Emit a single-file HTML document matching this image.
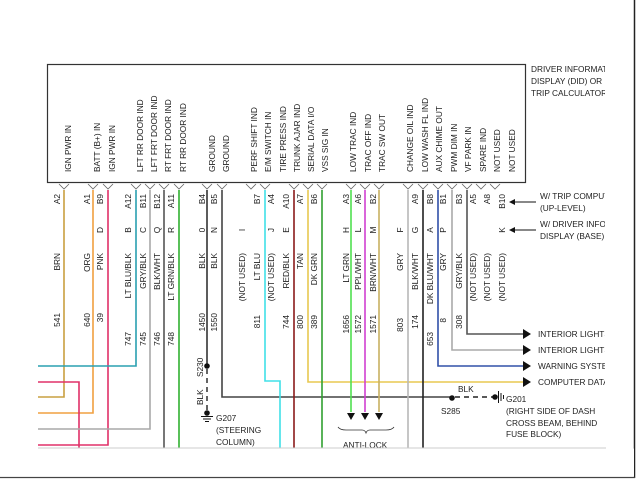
<!DOCTYPE html>
<html><head><meta charset="utf-8"><style>
html,body{margin:0;padding:0;background:#fff;}
svg{display:block;}
text{font-family:"Liberation Sans",Arial,sans-serif;font-size:8.3px;fill:#222;}
</style></head><body>
<svg width="640" height="480" viewBox="0 0 640 480" xmlns="http://www.w3.org/2000/svg">
<defs><clipPath id="c"><rect x="0" y="0" width="605" height="480"/></clipPath></defs>
<rect width="640" height="480" fill="#fff"/>
<line x1="634.5" y1="0" x2="634.5" y2="478" stroke="#222" stroke-width="1.5"/>
<line x1="0" y1="477.5" x2="635" y2="477.5" stroke="#444" stroke-width="1.2"/>
<rect x="47.5" y="64.5" width="478" height="118" fill="none" stroke="#333" stroke-width="1.2"/>
<line x1="38" y1="448" x2="606" y2="448" stroke="#ccc" stroke-width="1"/>

<g fill="none" stroke-width="1.6">
<path d="M64 190V397H38" stroke="#c9a040"/>
<path d="M93 190V413H38" stroke="#f0a040"/>
<path d="M108 190V445H38" stroke="#e03068"/>
<path d="M38 382H79V448" stroke="#e03068"/>
<path d="M136 190V366H38" stroke="#2aa0b0"/>
<path d="M150 190V429H38" stroke="#a8a8a8"/>
<path d="M164 190V448" stroke="#555"/>
<path d="M179 190V448" stroke="#30b030"/>
<path d="M207 190V366" stroke="#333"/>
<path d="M222 190V397H452" stroke="#444"/>
<path d="M265 190V381H280V448" stroke="#40e0e8"/>
<path d="M294 190V448" stroke="#8a1a1a"/>
<path d="M308 190V382H524" stroke="#e8c850"/>
<path d="M322 190V448" stroke="#30a030"/>
<path d="M351 190V412" stroke="#50e050"/>
<path d="M365 190V412" stroke="#d040d0"/>
<path d="M379 190V412" stroke="#c8b060"/>
<path d="M408 190V448" stroke="#b8b8b8"/>
<path d="M423 190V448" stroke="#222"/>
<path d="M438 190V366H524" stroke="#3050a8"/>
<path d="M452 190V350H524" stroke="#aaa"/>
<path d="M467 190V334H524" stroke="#555"/>
</g>
<!-- connector Vs -->
<g fill="none" stroke="#666" stroke-width="0.8">
<path d="M59 184l5 5 5-5M88 184l5 5 5-5M103 184l5 5 5-5M131 184l5 5 5-5M145 184l5 5 5-5M159 184l5 5 5-5M174 184l5 5 5-5M202 184l5 5 5-5M217 184l5 5 5-5M246 184l5 5 5-5M260 184l5 5 5-5M289 184l5 5 5-5M303 184l5 5 5-5M317 184l5 5 5-5M346 184l5 5 5-5M360 184l5 5 5-5M374 184l5 5 5-5M403 184l5 5 5-5M418 184l5 5 5-5M433 184l5 5 5-5M447 184l5 5 5-5M462 184l5 5 5-5M476 184l5 5 5-5M490 184l5 5 5-5"/>
</g>

<!-- header labels -->
<g>
<text transform="translate(71,172) rotate(-90)">IGN PWR IN</text>
<text transform="translate(100,172) rotate(-90)">BATT (B+) IN</text>
<text transform="translate(115,172) rotate(-90)">IGN PWR IN</text>
<text transform="translate(143,172) rotate(-90)">LFT RR DOOR IND</text>
<text transform="translate(157,172) rotate(-90)">LFT FRT DOOR IND</text>
<text transform="translate(171,172) rotate(-90)">RT FRT DOOR IND</text>
<text transform="translate(186,172) rotate(-90)">RT RR DOOR IND</text>
<text transform="translate(215,172) rotate(-90)">GROUND</text>
<text transform="translate(229,172) rotate(-90)">GROUND</text>
<text transform="translate(257,172) rotate(-90)">PERF SHIFT IND</text>
<text transform="translate(271,172) rotate(-90)">E/M SWITCH IN</text>
<text transform="translate(286,172) rotate(-90)">TIRE PRESS IND</text>
<text transform="translate(300,172) rotate(-90)">TRUNK AJAR IND</text>
<text transform="translate(314,172) rotate(-90)">SERIAL DATA I/O</text>
<text transform="translate(328,172) rotate(-90)">VSS SIG IN</text>
<text transform="translate(356,172) rotate(-90)">LOW TRAC IND</text>
<text transform="translate(371,172) rotate(-90)">TRAC OFF IND</text>
<text transform="translate(385,172) rotate(-90)">TRAC SW OUT</text>
<text transform="translate(413,172) rotate(-90)">CHANGE OIL IND</text>
<text transform="translate(428,172) rotate(-90)">LOW WASH FL IND</text>
<text transform="translate(442,172) rotate(-90)">AUX CHIME OUT</text>
<text transform="translate(457,172) rotate(-90)">PWM DIM IN</text>
<text transform="translate(471,172) rotate(-90)">VF PARK IN</text>
<text transform="translate(486,172) rotate(-90)">SPARE IND</text>
<text transform="translate(500,172) rotate(-90)">NOT USED</text>
<text transform="translate(515,172) rotate(-90)">NOT USED</text>
</g>

<!-- pin labels (end at top y=193) -->
<g text-anchor="end">
<text transform="translate(60,194) rotate(-90)">A2</text>
<text transform="translate(90,194) rotate(-90)">A1</text>
<text transform="translate(103,194) rotate(-90)">B9</text>
<text transform="translate(131,194) rotate(-90)">A12</text>
<text transform="translate(146,194) rotate(-90)">B11</text>
<text transform="translate(160,194) rotate(-90)">B12</text>
<text transform="translate(174,194) rotate(-90)">A11</text>
<text transform="translate(205,194) rotate(-90)">B4</text>
<text transform="translate(217,194) rotate(-90)">B5</text>
<text transform="translate(260,194) rotate(-90)">B7</text>
<text transform="translate(274,194) rotate(-90)">A4</text>
<text transform="translate(289,194) rotate(-90)">A10</text>
<text transform="translate(303,194) rotate(-90)">A7</text>
<text transform="translate(317,194) rotate(-90)">B6</text>
<text transform="translate(349,194) rotate(-90)">A3</text>
<text transform="translate(361,194) rotate(-90)">A6</text>
<text transform="translate(376,194) rotate(-90)">B2</text>
<text transform="translate(418,194) rotate(-90)">A9</text>
<text transform="translate(433,194) rotate(-90)">B8</text>
<text transform="translate(446,194) rotate(-90)">B1</text>
<text transform="translate(462,194) rotate(-90)">B3</text>
<text transform="translate(476,194) rotate(-90)">A5</text>
<text transform="translate(490,194) rotate(-90)">A8</text>
<text transform="translate(505,194) rotate(-90)">B10</text>
</g>
<!-- letters -->
<g text-anchor="middle">
<text transform="translate(103,230) rotate(-90)">D</text>
<text transform="translate(131,230) rotate(-90)">B</text>
<text transform="translate(146,230) rotate(-90)">C</text>
<text transform="translate(160,230) rotate(-90)">Q</text>
<text transform="translate(174,230) rotate(-90)">R</text>
<text transform="translate(205,230) rotate(-90)">0</text>
<text transform="translate(217,230) rotate(-90)">N</text>
<text transform="translate(245,230) rotate(-90)">I</text>
<text transform="translate(274,230) rotate(-90)">J</text>
<text transform="translate(289,230) rotate(-90)">E</text>
<text transform="translate(349,230) rotate(-90)">H</text>
<text transform="translate(361,230) rotate(-90)">L</text>
<text transform="translate(376,230) rotate(-90)">M</text>
<text transform="translate(403,230) rotate(-90)">F</text>
<text transform="translate(418,230) rotate(-90)">G</text>
<text transform="translate(433,230) rotate(-90)">A</text>
<text transform="translate(446,230) rotate(-90)">P</text>
<text transform="translate(505,230) rotate(-90)">K</text>
</g>
<!-- colors -->
<g text-anchor="end">
<text transform="translate(60,253) rotate(-90)">BRN</text>
<text transform="translate(90,253) rotate(-90)">ORG</text>
<text transform="translate(103,253) rotate(-90)">PNK</text>
<text transform="translate(131,253) rotate(-90)">LT BLU/BLK</text>
<text transform="translate(146,253) rotate(-90)">GRY/BLK</text>
<text transform="translate(160,253) rotate(-90)">BLK/WHT</text>
<text transform="translate(174,253) rotate(-90)">LT GRN/BLK</text>
<text transform="translate(205,253) rotate(-90)">BLK</text>
<text transform="translate(217,253) rotate(-90)">BLK</text>
<text transform="translate(245,253) rotate(-90)">(NOT USED)</text>
<text transform="translate(260,253) rotate(-90)">LT BLU</text>
<text transform="translate(274,253) rotate(-90)">(NOT USED)</text>
<text transform="translate(289,253) rotate(-90)">RED/BLK</text>
<text transform="translate(303,253) rotate(-90)">TAN</text>
<text transform="translate(317,253) rotate(-90)">DK GRN</text>
<text transform="translate(349,253) rotate(-90)">LT GRN</text>
<text transform="translate(361,253) rotate(-90)">PPL/WHT</text>
<text transform="translate(376,253) rotate(-90)">BRN/WHT</text>
<text transform="translate(403,253) rotate(-90)">GRY</text>
<text transform="translate(418,253) rotate(-90)">BLK/WHT</text>
<text transform="translate(433,253) rotate(-90)">DK BLU/WHT</text>
<text transform="translate(446,253) rotate(-90)">GRY</text>
<text transform="translate(462,253) rotate(-90)">GRY/BLK</text>
<text transform="translate(476,253) rotate(-90)">(NOT USED)</text>
<text transform="translate(490,253) rotate(-90)">(NOT USED)</text>
<text transform="translate(505,253) rotate(-90)">(NOT USED)</text>
</g>
<!-- numbers -->
<g text-anchor="end">
<text transform="translate(60,313) rotate(-90)">541</text>
<text transform="translate(90,313) rotate(-90)">640</text>
<text transform="translate(103,313) rotate(-90)">39</text>
<text transform="translate(131,332) rotate(-90)">747</text>
<text transform="translate(146,332) rotate(-90)">745</text>
<text transform="translate(160,332) rotate(-90)">746</text>
<text transform="translate(174,332) rotate(-90)">748</text>
<text transform="translate(205,313) rotate(-90)">1450</text>
<text transform="translate(217,313) rotate(-90)">1550</text>
<text transform="translate(260,315) rotate(-90)">811</text>
<text transform="translate(289,315) rotate(-90)">744</text>
<text transform="translate(303,315) rotate(-90)">800</text>
<text transform="translate(317,315) rotate(-90)">389</text>
<text transform="translate(349,315) rotate(-90)">1656</text>
<text transform="translate(361,315) rotate(-90)">1572</text>
<text transform="translate(376,315) rotate(-90)">1571</text>
<text transform="translate(403,318) rotate(-90)">803</text>
<text transform="translate(418,315) rotate(-90)">174</text>
<text transform="translate(433,332) rotate(-90)">653</text>
<text transform="translate(446,318) rotate(-90)">8</text>
<text transform="translate(462,315) rotate(-90)">308</text>
</g>

<!-- S230 / G207 -->
<circle cx="207" cy="366" r="2.8" fill="#111"/>
<line x1="207" y1="369" x2="207" y2="410" stroke="#222" stroke-width="1.4" stroke-dasharray="5,4"/>
<text transform="translate(203,377) rotate(-90)">S230</text>
<text transform="translate(203,405) rotate(-90)">BLK</text>
<circle cx="207" cy="413" r="2.8" fill="#111"/>
<path d="M201 416.5h12M203 419h8M205 421.5h4" stroke="#111" stroke-width="1"/>
<text x="216" y="421">G207</text>
<text x="216" y="433">(STEERING</text>
<text x="216" y="445">COLUMN)</text>

<!-- S285 / G201 -->
<circle cx="452" cy="398" r="2.8" fill="#111"/>
<line x1="455" y1="397" x2="494" y2="397" stroke="#222" stroke-width="1.4" stroke-dasharray="5,4"/>
<text x="458" y="392">BLK</text>
<text x="441" y="414">S285</text>
<circle cx="495" cy="397" r="2.8" fill="#111"/>
<path d="M498.5 391v12M501 393v8M503.5 395v4" stroke="#111" stroke-width="1"/>
<g clip-path="url(#c)">
<text x="506" y="402">G201</text>
<text x="506" y="414">(RIGHT SIDE OF DASH</text>
<text x="506" y="426">CROSS BEAM, BEHIND</text>
<text x="506" y="437">FUSE BLOCK)</text>

<!-- right arrows -->
<path d="M523 329l8 5-8 5zM523 345l8 5-8 5zM523 361l8 5-8 5zM523 377l8 5-8 5z" fill="#111"/>
<text x="538" y="337">INTERIOR LIGHTS</text>
<text x="538" y="353">INTERIOR LIGHTS</text>
<text x="538" y="369">WARNING SYSTEMS</text>
<text x="538" y="385">COMPUTER DATA</text>

<text x="531" y="72">DRIVER INFORMATION</text>
<text x="531" y="84">DISPLAY (DID) OR</text>
<text x="531" y="96">TRIP CALCULATOR</text>
<text x="540" y="199">W/ TRIP COMPUTER</text>
<text x="540" y="211">(UP-LEVEL)</text>
<text x="540" y="227">W/ DRIVER INFO</text>
<text x="540" y="239">DISPLAY (BASE)</text>
</g>
<path d="M514 202H536M514 230H536" stroke="#111" stroke-width="1"/>
<path d="M509 202l6-3v6zM509 230l6-3v6z" fill="#111"/>

<!-- anti-lock -->
<path d="M347 413h8l-4 7zM361 413h8l-4 7zM375 413h8l-4 7z" fill="#111"/>
<path d="M338 427q2 3 8 3h16q3 0 4 3q1-3 4-3h16q6 0 8-3" fill="none" stroke="#333" stroke-width="0.8"/>
<text x="343" y="448">ANTI-LOCK</text>
<rect x="0" y="448.6" width="634" height="28" fill="#fff"/>
<line x1="38" y1="448" x2="606" y2="448" stroke="#ccc" stroke-width="1"/>
</svg>
</body></html>
